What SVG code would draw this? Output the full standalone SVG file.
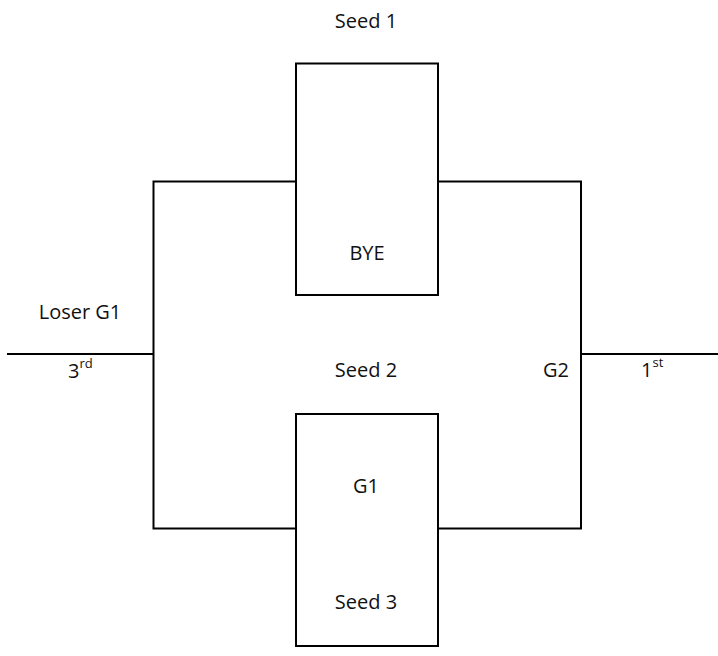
<svg xmlns="http://www.w3.org/2000/svg" width="718" height="656" viewBox="0 0 718 656">
<style>
.box{fill:#fff;stroke:#000;stroke-width:2}
.ln{fill:none;stroke:#000;stroke-width:2}
text{font-family:"Open Sans","Liberation Sans",sans-serif;font-size:20px;fill:#111}
.c{text-anchor:middle}
.sup{font-size:13px}
</style>
<rect width="718" height="656" fill="#fff"/>
<g id="connectors">
<path class="ln" d="M296 181.5H153.5V528.5H296"/>
<path class="ln" d="M438 181.5H581V528.5H438"/>
<path class="ln" d="M7 354H153.5"/>
<path class="ln" d="M581 354H718"/>
</g>
<g id="seed1-box">
<text class="c" x="366" y="28">Seed 1</text>
<rect class="box" x="296" y="63.5" width="142" height="231.5"/>
<text class="c" x="367" y="260">BYE</text>
</g>
<g id="g1-box">
<rect class="box" x="296" y="414" width="142" height="232"/>
<text class="c" x="366" y="493">G1</text>
<text class="c" x="366" y="609">Seed 3</text>
</g>
<g id="seed2-label">
<text class="c" x="366" y="377">Seed 2</text>
</g>
<g id="third">
<text class="c" x="80" y="319">Loser G1</text>
<text x="68" y="378">3<tspan class="sup" dy="-10">rd</tspan></text>
</g>
<g id="g2">
<text class="c" x="556" y="377">G2</text>
</g>
<g id="first">
<text x="641" y="377">1<tspan class="sup" dy="-10">st</tspan></text>
</g>
</svg>
